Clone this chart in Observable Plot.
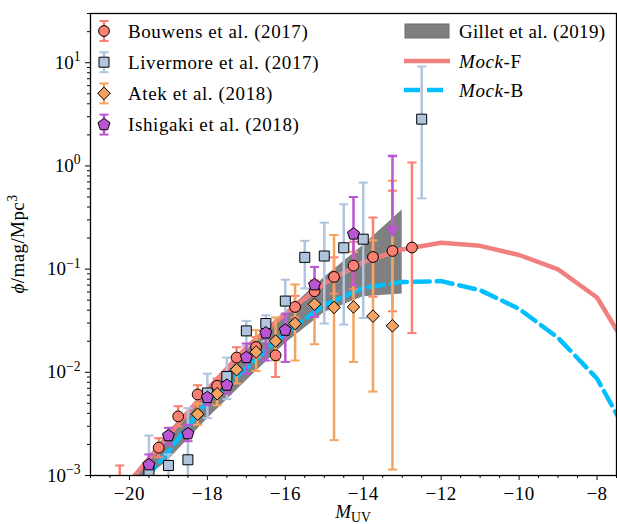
<!DOCTYPE html>
<html><head><meta charset="utf-8">
<script src="https://cdn.jsdelivr.net/npm/d3@7"></script>
<script src="https://cdn.jsdelivr.net/npm/@observablehq/plot@0.6"></script>
<style>
html,body{margin:0;padding:0;background:#fff;}
#chart{width:617px;height:524px;}
</style></head><body><div id="chart"></div>
<script>
// ---------- data ----------
const bouwensM   = [-20.25, -19.25, -18.75, -18.25, -17.75, -17.25, -16.75, -16.25, -15.75, -15.25, -14.75, -14.25, -13.75, -13.25, -12.75];
const bouwensPhi = [0.0007, 0.00186, 0.00374, 0.0061, 0.0074, 0.0139, 0.0176, 0.0146, 0.043, 0.061, 0.084, 0.108, 0.131, 0.150, 0.162];
const bouwensLo  = [0.0005, 0.0015, 0.0030, 0.0049, 0.0062, 0.011, 0.014, 0.009, 0.034, 0.048, 0.058, 0.064, 0.054, 0.039, 0.024];
const bouwensHi  = [0.00125, 0.0023, 0.0047, 0.0075, 0.0087, 0.0175, 0.022, 0.021, 0.055, 0.078, 0.13, 0.184, 0.316, 0.575, 1.08];

const livermoreM   = [-19.5, -19.0, -18.5, -18.0, -17.5, -17.0, -16.5, -16.0, -15.5, -15.0, -14.5, -14.0, -12.5];
const livermorePhi = [0.00112, 0.00125, 0.00142, 0.0063, 0.0091, 0.0252, 0.0297, 0.049, 0.130, 0.134, 0.161, 0.195, 2.84];
const livermoreLo  = [0.0003, 0.0006, 0.0003, 0.0036, 0.0055, 0.018, 0.020, 0.025, 0.065, 0.0297, 0.029, 0.0336, 0.485];
const livermoreHi  = [0.00244, 0.0016, 0.0045, 0.0097, 0.0139, 0.0315, 0.0357, 0.079, 0.188, 0.282, 0.425, 0.69, 9.2];

const atekM   = [-18.25, -17.75, -17.25, -16.75, -16.25, -15.75, -15.25, -14.75, -14.25, -13.75, -13.25];
const atekPhi = [0.00393, 0.0062, 0.0106, 0.0157, 0.0201, 0.0297, 0.0457, 0.0425, 0.043, 0.035, 0.0282];
const atekLo  = [0.0031, 0.0048, 0.0078, 0.0103, 0.013, 0.013, 0.0187, 0.0022, 0.0126, 0.0065, 0.00114];
const atekHi  = [0.0050, 0.0079, 0.0145, 0.0256, 0.034, 0.071, 0.067, 0.214, 0.147, 0.19, 0.72];

const ishigakiM   = [-19.5, -19.0, -18.5, -18.0, -17.5, -17.0, -16.5, -16.0, -15.25, -14.25];
const ishigakiPhi = [0.00127, 0.00243, 0.00254, 0.0057, 0.0075, 0.0139, 0.0241, 0.0256, 0.0705, 0.219];
const ishigakiLo  = [0.00105, 0.0020, 0.00215, 0.0048, 0.0062, 0.0097, 0.013, 0.0126, 0.0344, 0.07];
const ishigakiHi  = [0.0016, 0.0029, 0.0031, 0.0068, 0.0092, 0.019, 0.030, 0.037, 0.105, 0.50];
// upper limit (arrow)
const ishigakiLimM   = [-13.25];
const ishigakiLimTop = [1.25];
const ishigakiLimTip = [0.206];

const gilletM  = [-19.8, -19, -18, -17, -16, -15, -14, -13];
const gilletLo = [0.00079, 0.00141, 0.00355, 0.0083, 0.019, 0.038, 0.054, 0.0575];
const gilletHi = [0.00112, 0.00263, 0.0071, 0.0174, 0.038, 0.083, 0.17, 0.374];

const mockM = [-20, -19, -18, -17, -16, -15, -14, -13, -12, -11, -10, -9, -8, -7];
const mockF = [0.00087, 0.00245, 0.0068, 0.0174, 0.0372, 0.0724, 0.117, 0.155, 0.180, 0.168, 0.137, 0.0993, 0.0531, 0.0126];
const mockB = [0.00063, 0.0017, 0.00525, 0.011, 0.024, 0.0447, 0.066, 0.075, 0.0764, 0.0625, 0.0412, 0.0216, 0.0087, 0.0018];

const xMajor = [-20, -18, -16, -14, -12, -10, -8];
const yMajor = [1e-3, 1e-2, 1e-1, 1, 10];

// ---------- helpers ----------
const rows = (M, phi, lo, hi) => M.map((m, i) => ({m, phi: phi[i], lo: lo[i], hi: hi[i]}));
const bouwens = rows(bouwensM, bouwensPhi, bouwensLo, bouwensHi);
const livermore = rows(livermoreM, livermorePhi, livermoreLo, livermoreHi);
const atek = rows(atekM, atekPhi, atekLo, atekHi);
const ishigaki = rows(ishigakiM, ishigakiPhi, ishigakiLo, ishigakiHi);
const ishLim = ishigakiLimM.map((m, i) => ({m, top: ishigakiLimTop[i], tip: ishigakiLimTip[i]}));
const gillet = gilletM.map((m, i) => ({m, lo: gilletLo[i], hi: gilletHi[i]}));
const mockFData = mockM.map((m, i) => ({m, v: mockF[i]}));
const mockBData = mockM.map((m, i) => ({m, v: mockB[i]}));

const rad = s => Math.sqrt(s / Math.PI);
const capSym = {draw(c, s) { const r = rad(s); c.moveTo(-r, 0); c.lineTo(r, 0); }};
const squareSym = {draw(c, s) { const r = rad(s); c.rect(-r, -r, 2 * r, 2 * r); }};
const diamondSym = {draw(c, s) { const r = rad(s); c.moveTo(0, -r); c.lineTo(r, 0); c.lineTo(0, r); c.lineTo(-r, 0); c.closePath(); }};
const pentagonSym = {draw(c, s) { const r = rad(s);
  for (let k = 0; k < 5; k++) { const a = -Math.PI / 2 + k * 2 * Math.PI / 5;
    const x = r * Math.cos(a), y = r * Math.sin(a); if (k) c.lineTo(x, y); else c.moveTo(x, y); }
  c.closePath(); }};
const arrowSym = {draw(c, s) { const r = rad(s); c.moveTo(0, 0); c.lineTo(-r, -1.7 * r); c.lineTo(r, -1.7 * r); c.closePath(); }};

const C = {bouwens: "#fa8072", livermore: "#b0c4de", atek: "#f4a460", ishigaki: "#ba55d3",
           mockF: "#f08080", mockB: "#00bfff", gillet: "#808080"};

function errbars(data, color) {
  return [
    Plot.ruleX(data, {x: "m", y1: "lo", y2: "hi", stroke: color, strokeWidth: 2.5, clip: true}),
    Plot.dot(data, {x: "m", y: "lo", symbol: capSym, r: 4.6, fill: "none", stroke: color, strokeWidth: 2, clip: true}),
    Plot.dot(data, {x: "m", y: "hi", symbol: capSym, r: 4.6, fill: "none", stroke: color, strokeWidth: 2, clip: true})
  ];
}

const yMinor = [];
for (let e = -3; e <= 1; e++) for (let k = 2; k <= 9; k++) { const v = k * Math.pow(10, e); if (v <= 30) yMinor.push(v); }
const xMinor = d3.range(-21, -7.4, 0.5).filter(v => !xMajor.includes(v));

const FONT = "'Liberation Serif', 'Times New Roman', serif";

const plot = Plot.plot({
  width: 617, height: 524,
  marginLeft: 90, marginRight: 1, marginTop: 13, marginBottom: 49,
  style: {fontFamily: FONT, fontSize: "19px", color: "black", background: "white"},
  x: {domain: [-21, -7.5]},
  y: {type: "log", domain: [1e-3, 30]},
  marks: [
    Plot.areaY(gillet, {x: "m", y1: "lo", y2: "hi", fill: C.gillet, clip: true}),
    Plot.line(mockFData, {x: "m", y: "v", stroke: C.mockF, strokeWidth: 4.5, clip: true}),
    Plot.line(mockBData, {x: "m", y: "v", stroke: C.mockB, strokeWidth: 4.5, strokeDasharray: "16,7", clip: true}),
    ...errbars(bouwens, C.bouwens),
    ...errbars(livermore, C.livermore),
    ...errbars(atek, C.atek),
    ...errbars(ishigaki, C.ishigaki),
    Plot.ruleX(ishLim, {x: "m", y1: "tip", y2: "top", stroke: C.ishigaki, strokeWidth: 2.5, clip: true}),
    Plot.dot(ishLim, {x: "m", y: "top", symbol: capSym, r: 4.6, fill: "none", stroke: C.ishigaki, strokeWidth: 2.5, clip: true}),
    Plot.dot(ishLim, {x: "m", y: "tip", symbol: arrowSym, r: 6, fill: C.ishigaki, stroke: C.ishigaki, strokeWidth: 0.5, clip: true}),
    Plot.dot(bouwens, {x: "m", y: "phi", symbol: "circle", r: 5.4, fill: C.bouwens, stroke: "black", strokeWidth: 1, clip: true}),
    Plot.dot(livermore, {x: "m", y: "phi", symbol: squareSym, r: 5, fill: C.livermore, stroke: "black", strokeWidth: 1, clip: true}),
    Plot.dot(atek, {x: "m", y: "phi", symbol: diamondSym, r: 6.3, fill: C.atek, stroke: "black", strokeWidth: 1, clip: true}),
    Plot.dot(ishigaki, {x: "m", y: "phi", symbol: pentagonSym, r: 6.3, fill: C.ishigaki, stroke: "black", strokeWidth: 1, clip: true}),
    Plot.axisX({ticks: xMinor, tickSize: 3, tickFormat: () => "", label: null, strokeWidth: 1}),
    Plot.axisX({ticks: xMajor, tickSize: 5, tickPadding: 6, tickFormat: d => "\u2212" + Math.abs(d), label: null, strokeWidth: 1}),
    Plot.axisY({ticks: yMinor, tickSize: 3, tickFormat: () => "", label: null, strokeWidth: 1}),
    Plot.axisY({ticks: yMajor, tickSize: 5, tickPadding: 5, tickFormat: d => "10^" + Math.round(Math.log10(d)), label: null, strokeWidth: 1}),
    Plot.frame({stroke: "black", strokeWidth: 1.3})
  ]
});
document.getElementById("chart").append(plot);

const svg = d3.select(plot);
svg.selectAll('[aria-label="x-axis tick label"] text').attr("letter-spacing", "0.5px");
// superscript exponents on y tick labels
svg.selectAll('[aria-label="y-axis tick label"] text').each(function() {
  const t = d3.select(this); const s = t.text();
  if (!s.includes("^")) return;
  const exp = s.split("^")[1].replace("-", "\u2212");
  t.text("");
  t.append("tspan").text("10");
  t.append("tspan").attr("dy", "-0.55em").attr("font-size", "0.72em").text(exp);
});

// axis titles
const xl = svg.append("text").attr("x", 353).attr("y", 518).attr("text-anchor", "middle")
  .attr("font-family", FONT).attr("font-size", 19).attr("fill", "black");
xl.append("tspan").attr("font-style", "italic").text("M");
xl.append("tspan").attr("dy", "0.3em").attr("font-size", "0.72em").text("UV");

const yl = svg.append("text").attr("transform", "translate(24,244) rotate(-90)").attr("text-anchor", "middle")
  .attr("font-family", FONT).attr("font-size", 19).attr("fill", "black").attr("letter-spacing", "0.4px");
yl.append("tspan").attr("font-style", "italic").text("\u03D5");
yl.append("tspan").text("/mag/Mpc");
yl.append("tspan").attr("dy", "-0.5em").attr("font-size", "0.72em").text("3");

// legend
const leg = svg.append("g").attr("font-family", FONT).attr("font-size", 19).attr("fill", "black")
  .attr("text-anchor", "start").attr("letter-spacing", "0.6px");
const leftItems = [
  {label: "Bouwens et al. (2017)", color: C.bouwens, sym: d3.symbolCircle, size: Math.PI * 5.4 * 5.4},
  {label: "Livermore et al. (2017)", color: C.livermore, sym: squareSym, size: Math.PI * 25},
  {label: "Atek et al. (2018)", color: C.atek, sym: diamondSym, size: Math.PI * 6.3 * 6.3},
  {label: "Ishigaki et al. (2018)", color: C.ishigaki, sym: pentagonSym, size: Math.PI * 6.3 * 6.3}
];
leftItems.forEach((it, i) => {
  const y = 31 + i * 31.2, x = 104;
  leg.append("line").attr("x1", x).attr("x2", x).attr("y1", y - 10).attr("y2", y + 10).attr("stroke", it.color).attr("stroke-width", 2.5);
  [y - 10, y + 10].forEach(yy => leg.append("line").attr("x1", x - 4.6).attr("x2", x + 4.6).attr("y1", yy).attr("y2", yy).attr("stroke", it.color).attr("stroke-width", 2));
  leg.append("path").attr("d", d3.symbol(it.sym, it.size)()).attr("transform", `translate(${x},${y})`)
    .attr("fill", it.color).attr("stroke", "black").attr("stroke-width", 1);
  leg.append("text").attr("x", 128).attr("y", y).attr("dy", "0.35em").attr("text-anchor", "start").text(it.label);
});
// right column
leg.append("rect").attr("x", 405).attr("y", 24).attr("width", 44).attr("height", 14).attr("fill", C.gillet).attr("stroke", "#6a6a6a").attr("stroke-width", 1);
leg.append("text").attr("x", 459).attr("y", 31).attr("dy", "0.35em").attr("text-anchor", "start").attr("letter-spacing", "0.3px").text("Gillet et al. (2019)");
leg.append("line").attr("x1", 404).attr("x2", 450).attr("y1", 61).attr("y2", 61).attr("stroke", C.mockF).attr("stroke-width", 4.5);
const tf = leg.append("text").attr("x", 459).attr("y", 61).attr("dy", "0.35em").attr("text-anchor", "start");
tf.append("tspan").attr("font-style", "italic").text("Mock");
tf.append("tspan").text("-F");
leg.append("line").attr("x1", 404).attr("x2", 450).attr("y1", 90).attr("y2", 90).attr("stroke", C.mockB).attr("stroke-width", 4.5).attr("stroke-dasharray", "16,7");
const tb = leg.append("text").attr("x", 459).attr("y", 90).attr("dy", "0.35em").attr("text-anchor", "start");
tb.append("tspan").attr("font-style", "italic").text("Mock");
tb.append("tspan").text("-B");
</script>
</body></html>
